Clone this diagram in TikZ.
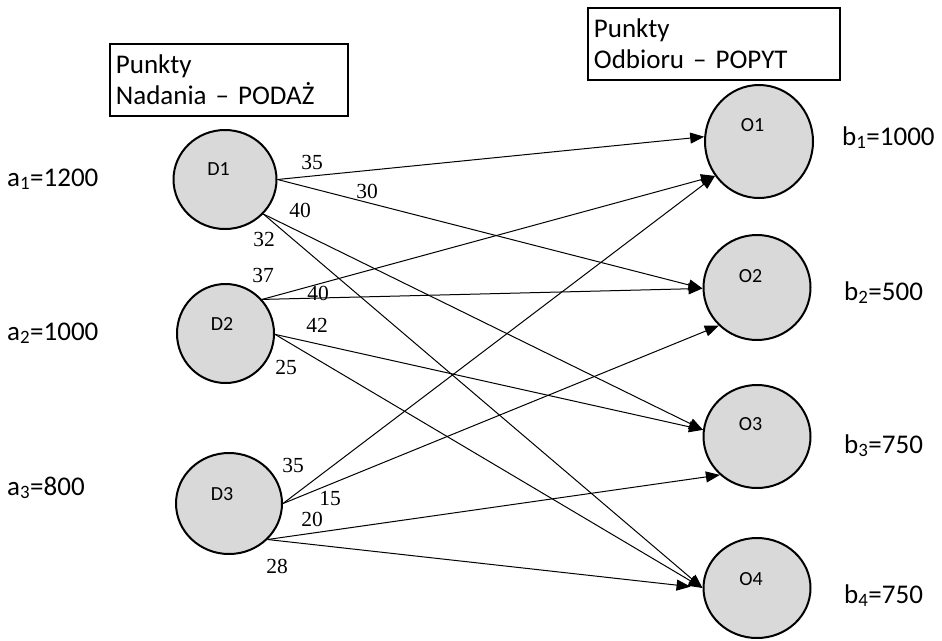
\documentclass[tikz,border=0pt]{standalone}
\usepackage{fontspec}
\setmainfont{Carlito}
\newfontfamily\costfont{Liberation Serif}
\usetikzlibrary{shapes.geometric,arrows.meta}
\definecolor{sitefill}{HTML}{D9D9D9}
\begin{document}
\begin{tikzpicture}[x=1pt,y=-1pt,
  site/.style={ellipse,draw,line width=2pt,fill=sitefill,inner sep=0pt},
  tag/.style={font=\fontsize{20}{22}\selectfont},
  cost/.style={font=\costfont\fontsize{21.5}{23}\selectfont,inner sep=1pt},
  side/.style={anchor=base west,inner sep=0pt,font=\fontsize{27}{30}\selectfont},
  titlebox/.style={draw,line width=1.8pt,anchor=north west,align=left,
    minimum height=72pt,inner xsep=6pt,inner ysep=0pt,
    font=\fontsize{27}{31}\selectfont},
  route/.style={line width=1pt,-{Triangle[length=14pt,width=11pt]}}
]
\useasboundingbox (0,0) rectangle (942,640);

% headings
\node[titlebox,text width=226pt] (hsupply) at (109,43) {Punkty\\Nadania -- PODAŻ};
\node[titlebox,text width=240pt] (hdemand) at (587,7) {Punkty\\Odbioru -- POPYT};

% supply points
\node[site,minimum width=103pt,minimum height=99pt,
  label={[tag,xshift=-6.5pt,yshift=10.5pt]center:D1}] (D1) at (225,179.5) {};
\node[site,minimum width=97pt,minimum height=99pt,
  label={[tag,xshift=-3.5pt,yshift=9.5pt]center:D2}] (D2) at (225.5,333.5) {};
\node[site,minimum width=106pt,minimum height=101pt,
  label={[tag,xshift=-7pt,yshift=9.5pt]center:D3}] (D3) at (229,503.5) {};

% demand points
\node[site,minimum width=108pt,minimum height=113pt,
  label={[tag,xshift=-6.5pt,yshift=16.5pt]center:O1}] (O1) at (759,141.5) {};
\node[site,minimum width=107pt,minimum height=105pt,
  label={[tag,xshift=-6.5pt,yshift=11.5pt]center:O2}] (O2) at (757,287.5) {};
\node[site,minimum width=107pt,minimum height=103pt,
  label={[tag,xshift=-6.5pt,yshift=12.5pt]center:O3}] (O3) at (757,436.5) {};
\node[site,minimum width=107pt,minimum height=100pt,
  label={[tag,xshift=-6pt,yshift=9pt]center:O4}] (O4) at (757,588) {};

% supplies and demands
\node[side] (a1) at (7,186) {a\textsubscript{1}=1200};
\node[side] (a2) at (7,340) {a\textsubscript{2}=1000};
\node[side] (a3) at (7,495) {a\textsubscript{3}=800};
\node[side] (b1) at (842,145) {b\textsubscript{1}=1000};
\node[side] (b2) at (844,300) {b\textsubscript{2}=500};
\node[side] (b3) at (844,453) {b\textsubscript{3}=750};
\node[side] (b4) at (844,603) {b\textsubscript{4}=750};

% routes
\draw[route] (D1.east) -- (O1.175);
\draw[route] (D1.east) -- (O2.181);
\draw[route] (D1.-42) -- (O3.173);
\draw[route] (D1.-42) -- (O4.180);
\draw[route] (D2.43) -- (O1.218);
\draw[route] (D2.43) -- (O2.181);
\draw[route] (D2.-1) -- (O3.173);
\draw[route] (D2.-1) -- (O4.180);
\draw[route] (D3.east) -- (O1.218);
\draw[route] (D3.east) -- (O2.225);
\draw[route] (D3.-43) -- (O3.226);
\draw[route,shorten >=12pt] (D3.-43) -- (O4.180);

% unit costs
\node[cost] (c11) at (312,162) {35};
\node[cost] (c12) at (367,191) {30};
\node[cost] (c13) at (300,210) {40};
\node[cost] (c14) at (264,239) {32};
\node[cost] (c21) at (263,275) {37};
\node[cost] (c22) at (318,293) {40};
\node[cost] (c23) at (317,325) {42};
\node[cost] (c24) at (286,367) {25};
\node[cost] (c31) at (293,465) {35};
\node[cost] (c32) at (330,498) {15};
\node[cost] (c33) at (312,519) {20};
\node[cost] (c34) at (277,566) {28};
\end{tikzpicture}
\end{document}
